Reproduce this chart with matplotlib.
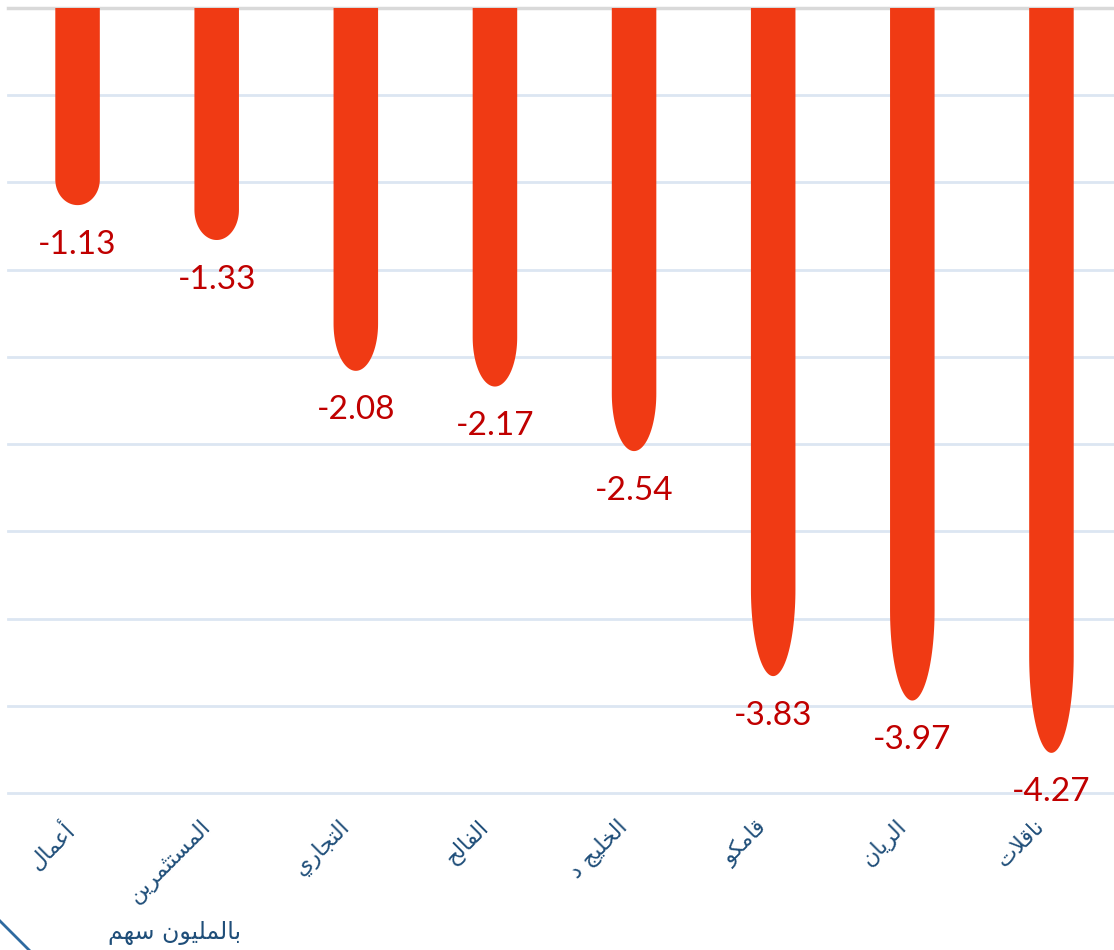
import matplotlib
matplotlib.use("Agg")
import matplotlib.pyplot as plt
from matplotlib.lines import Line2D
from matplotlib.transforms import ScaledTranslation
import numpy as np

# data
companies = ["أعمال", "المستثمرين", "التجاري", "الفالح", "الخليج د",
             "قامكو", "الريان", "ناقلات"]
values = [-1.13, -1.33, -2.08, -2.17, -2.54, -3.83, -3.97, -4.27]
unit_label = "بالمليون سهم"

BAR_COLOR = "#F03A14"
VALUE_COLOR = "#C00000"
TEXT_BLUE = "#1F4E79"

# matplotlib has no arabic shaping, so pick the presentation forms by hand
FORMS = {
    "ا": (0xFE8D, False), "أ": (0xFE83, False), "ب": (0xFE8F, True),
    "ت": (0xFE95, True), "ث": (0xFE99, True), "ج": (0xFE9D, True),
    "ح": (0xFEA1, True), "خ": (0xFEA5, True), "د": (0xFEA9, False),
    "ر": (0xFEAD, False), "س": (0xFEB1, True), "ع": (0xFEC9, True),
    "ف": (0xFED1, True), "ق": (0xFED5, True), "ك": (0xFED9, True),
    "ل": (0xFEDD, True), "م": (0xFEE1, True), "ن": (0xFEE5, True),
    "ه": (0xFEE9, True), "و": (0xFEED, False), "ي": (0xFEF1, True),
}
LAM_ALEF = {"ا": 0xFEFB, "أ": 0xFEF7}


def shape(text):
    tokens = []
    i = 0
    while i < len(text):
        c = text[i]
        if c == "ل" and i + 1 < len(text) and text[i + 1] in LAM_ALEF:
            tokens.append(("LA", text[i + 1]))
            i += 2
        else:
            tokens.append(("C", c))
            i += 1
    out = []
    for j, (kind, c) in enumerate(tokens):
        prev = tokens[j - 1] if j > 0 else None
        nxt = tokens[j + 1] if j + 1 < len(tokens) else None
        joins_prev = (prev is not None and prev[0] == "C"
                      and prev[1] in FORMS and FORMS[prev[1]][1])
        if kind == "LA":
            out.append(chr(LAM_ALEF[c] + (1 if joins_prev else 0)))
            continue
        if c not in FORMS:
            out.append(c)
            continue
        base, dual = FORMS[c]
        joins_next = dual and nxt is not None and (nxt[0] == "LA" or nxt[1] in FORMS)
        if joins_prev and joins_next:
            code = base + 3
        elif joins_prev:
            code = base + 1
        elif joins_next:
            code = base + 2
        else:
            code = base
        out.append(chr(code))
    return "".join(reversed(out))


fig = plt.figure(figsize=(11.14, 9.5), dpi=100)
ax = fig.add_axes([8 / 1114, 157 / 950, 1113 / 1114, 785 / 950])

x = np.arange(len(values))
vals = np.array(values)
w = 0.32
theta = np.linspace(0, np.pi, 60)

# one outline per bar: straight sides and a stretched rounded end
for xi, v in zip(x, vals):
    r = 0.13 * abs(v)
    xs = np.concatenate([[xi + w / 2], xi + w / 2 * np.cos(theta), [xi - w / 2]])
    ys = np.concatenate([[0], (v + r) - r * np.sin(theta), [0]])
    ax.fill(xs, ys, color=BAR_COLOR, linewidth=0, zorder=3)
    ax.annotate(f"{v:.2f}", xy=(xi, v), xytext=(0, -28.5), textcoords="offset points",
                ha="center", va="center", color=VALUE_COLOR, fontsize=24,
                family="Lato", zorder=4, annotation_clip=False)

ax.set_xlim(-0.5, 7.5)
ax.set_ylim(-4.5, 0)
ax.set_yticks(np.arange(-4.5, 0.01, 0.5))
ax.yaxis.grid(True, color="#DCE6F2", linewidth=2, zorder=0)
for gl in ax.get_ygridlines():
    gl.set_clip_on(False)
ax.axhline(0, color="#D9D9D9", linewidth=2.5, zorder=2, clip_on=False)
ax.tick_params(axis="y", left=False, labelleft=False)
ax.tick_params(axis="x", bottom=False, pad=6)
for s in ax.spines.values():
    s.set_visible(False)

ax.set_xticks(x)
ax.set_xticklabels([shape(c) for c in companies], rotation=45, ha="right",
                   rotation_mode="anchor", fontsize=16, color=TEXT_BLUE,
                   family="DejaVu Sans")
shift = ScaledTranslation(-0.17, -0.10, fig.dpi_scale_trans)
for lab in ax.get_xticklabels():
    lab.set_transform(lab.get_transform() + shift)

fig.text(175 / 1114, 1 - 933 / 950, shape(unit_label), ha="center", va="center",
         fontsize=17, color=TEXT_BLUE, family="DejaVu Sans")

# bit of the frame showing in the lower left corner
fig.add_artist(Line2D([0, 14 / 1114, 29 / 1114], [1 - 921 / 950, 1 - 935 / 950, 0],
                      color="#2E6AA0", linewidth=2))

fig.savefig("out.png", dpi=100, facecolor="white")
